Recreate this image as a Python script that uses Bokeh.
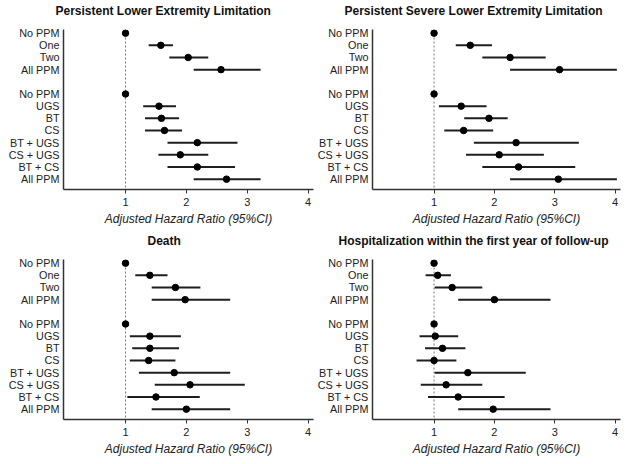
from bokeh.plotting import figure
from bokeh.models import Range1d, Span, ColumnDataSource
from bokeh.layouts import row, column
from bokeh.embed import file_html
from bokeh.resources import INLINE

FONT = "Liberation Sans"

# ---- data ----
row_labels = ["No PPM", "One", "Two", "All PPM",
              "No PPM", "UGS", "BT", "CS", "BT + UGS", "CS + UGS", "BT + CS", "All PPM"]
group_sizes = [4, 8]
x_ticks = [1, 2, 3, 4]
x_label = "Adjusted Hazard Ratio (95%CI)"

title_1 = "Persistent Lower Extremity Limitation"
hr_1 = [1, 1.58, 2.03, 2.57, 1, 1.55, 1.59, 1.64, 2.18, 1.90, 2.18, 2.66]
lo_1 = [1, 1.38, 1.72, 2.12, 1, 1.29, 1.32, 1.32, 1.69, 1.54, 1.69, 2.12]
hi_1 = [1, 1.78, 2.36, 3.22, 1, 1.83, 1.88, 1.93, 2.84, 2.36, 2.80, 3.22]

title_2 = "Persistent Severe Lower Extremity Limitation"
hr_2 = [1, 1.60, 2.26, 3.08, 1, 1.45, 1.91, 1.49, 2.36, 2.08, 2.40, 3.06]
lo_2 = [1, 1.36, 1.80, 2.26, 1, 1.08, 1.50, 1.17, 1.66, 1.53, 1.80, 2.26]
hi_2 = [1, 1.96, 2.85, 4.03, 1, 1.87, 2.22, 1.98, 3.40, 2.82, 3.34, 4.03]

title_3 = "Death"
hr_3 = [1, 1.40, 1.82, 1.98, 1, 1.40, 1.40, 1.38, 1.80, 2.06, 1.50, 2.00]
lo_3 = [1, 1.16, 1.43, 1.43, 1, 1.07, 1.11, 1.07, 1.22, 1.48, 1.03, 1.43]
hi_3 = [1, 1.69, 2.23, 2.72, 1, 1.91, 1.88, 1.82, 2.72, 2.96, 2.22, 2.72]

title_4 = "Hospitalization within the first year of follow-up"
hr_4 = [1, 1.06, 1.30, 2.00, 1, 1.02, 1.14, 1.00, 1.56, 1.20, 1.40, 1.98]
lo_4 = [1, 0.86, 1.01, 1.40, 1, 0.76, 0.85, 0.71, 1.01, 0.78, 0.90, 1.40]
hi_4 = [1, 1.28, 1.80, 2.93, 1, 1.40, 1.52, 1.37, 2.52, 1.80, 2.17, 2.93]


def y_positions():
    pos, start = [], 0
    for n in group_sizes:
        pos += list(range(start, start + n))
        start += n + 1
    return pos


def panel(title, hr, lo, hi, w, h, bl, br, bt, bb, title_dx):
    ypos = y_positions()
    p = figure(width=w, height=h, x_range=Range1d(-0.02, 4.09),
               y_range=Range1d(12.85, -0.3), output_backend="svg",
               toolbar_location=None, min_border_left=bl, min_border_right=br,
               min_border_top=bt, min_border_bottom=bb)
    p.outline_line_color = None
    p.grid.visible = False
    p.background_fill_color = "white"
    p.border_fill_color = "white"

    # trailing empty line adds a little space between title and plot
    p.title.text = title + "\n"
    p.title.text_font = FONT
    p.title.text_font_style = "bold"
    p.title.text_font_size = "12px"
    p.title.text_line_height = 0.5
    p.title.text_color = "#111111"
    p.title.align = "left"
    p.title.offset = title_dx
    p.title.vertical_align = "top"
    p.title.standoff = 6

    p.add_layout(Span(location=1, dimension="height", line_color="#777777",
                      line_dash="2 2", line_width=1, level="underlay"))

    src = ColumnDataSource(dict(y=ypos, hr=hr, lo=lo, hi=hi))
    p.segment(x0="lo", y0="y", x1="hi", y1="y", line_width=2,
              line_color="#1e1e1e", source=src)
    p.scatter("hr", "y", size=6.5, color="black", source=src)

    ax = p.xaxis[0]
    ax.ticker = x_ticks
    ax.axis_label = x_label
    ax.axis_label_text_font = FONT
    ax.axis_label_text_font_style = "italic"
    ax.axis_label_text_font_size = "12px"
    ax.axis_label_text_color = "#222222"
    ax.axis_label_standoff = 3
    ax.major_label_text_font = FONT
    ax.major_label_text_font_size = "11px"
    ax.major_label_text_color = "#222222"
    ax.major_label_standoff = 4
    ax.major_tick_out = 4
    ax.major_tick_in = 0
    ax.minor_tick_out = 0
    ax.minor_tick_in = 0
    ax.axis_line_color = "#333333"
    ax.axis_line_width = 1.5
    ax.major_tick_line_color = "#333333"

    ay = p.yaxis[0]
    ay.ticker = ypos
    ay.major_label_overrides = {yv: lab for yv, lab in zip(ypos, row_labels)}
    ay.major_label_text_font = FONT
    ay.major_label_text_font_size = "10.8px"
    ay.major_label_text_color = "#222222"
    ay.major_label_standoff = 4
    ay.major_tick_out = 0
    ay.major_tick_in = 0
    ay.minor_tick_out = 0
    ay.minor_tick_in = 0
    ay.axis_line_color = "#333333"
    ay.axis_line_width = 1.5
    return p


p1 = panel(title_1, hr_1, lo_1, hi_1, 314, 230, 63, 1, 28, 41, -8)
p2 = panel(title_2, hr_2, lo_2, hi_2, 308, 230, 57, 2, 28, 41, -28)
p3 = panel(title_3, hr_3, lo_3, hi_3, 314, 232, 63, 1, 28, 43, 84)
p4 = panel(title_4, hr_4, lo_4, hi_4, 308, 232, 57, 2, 28, 43, -34)

layout = column(row(p1, p2), row(p3, p4))
open("out.html", "w").write(file_html(layout, INLINE))
